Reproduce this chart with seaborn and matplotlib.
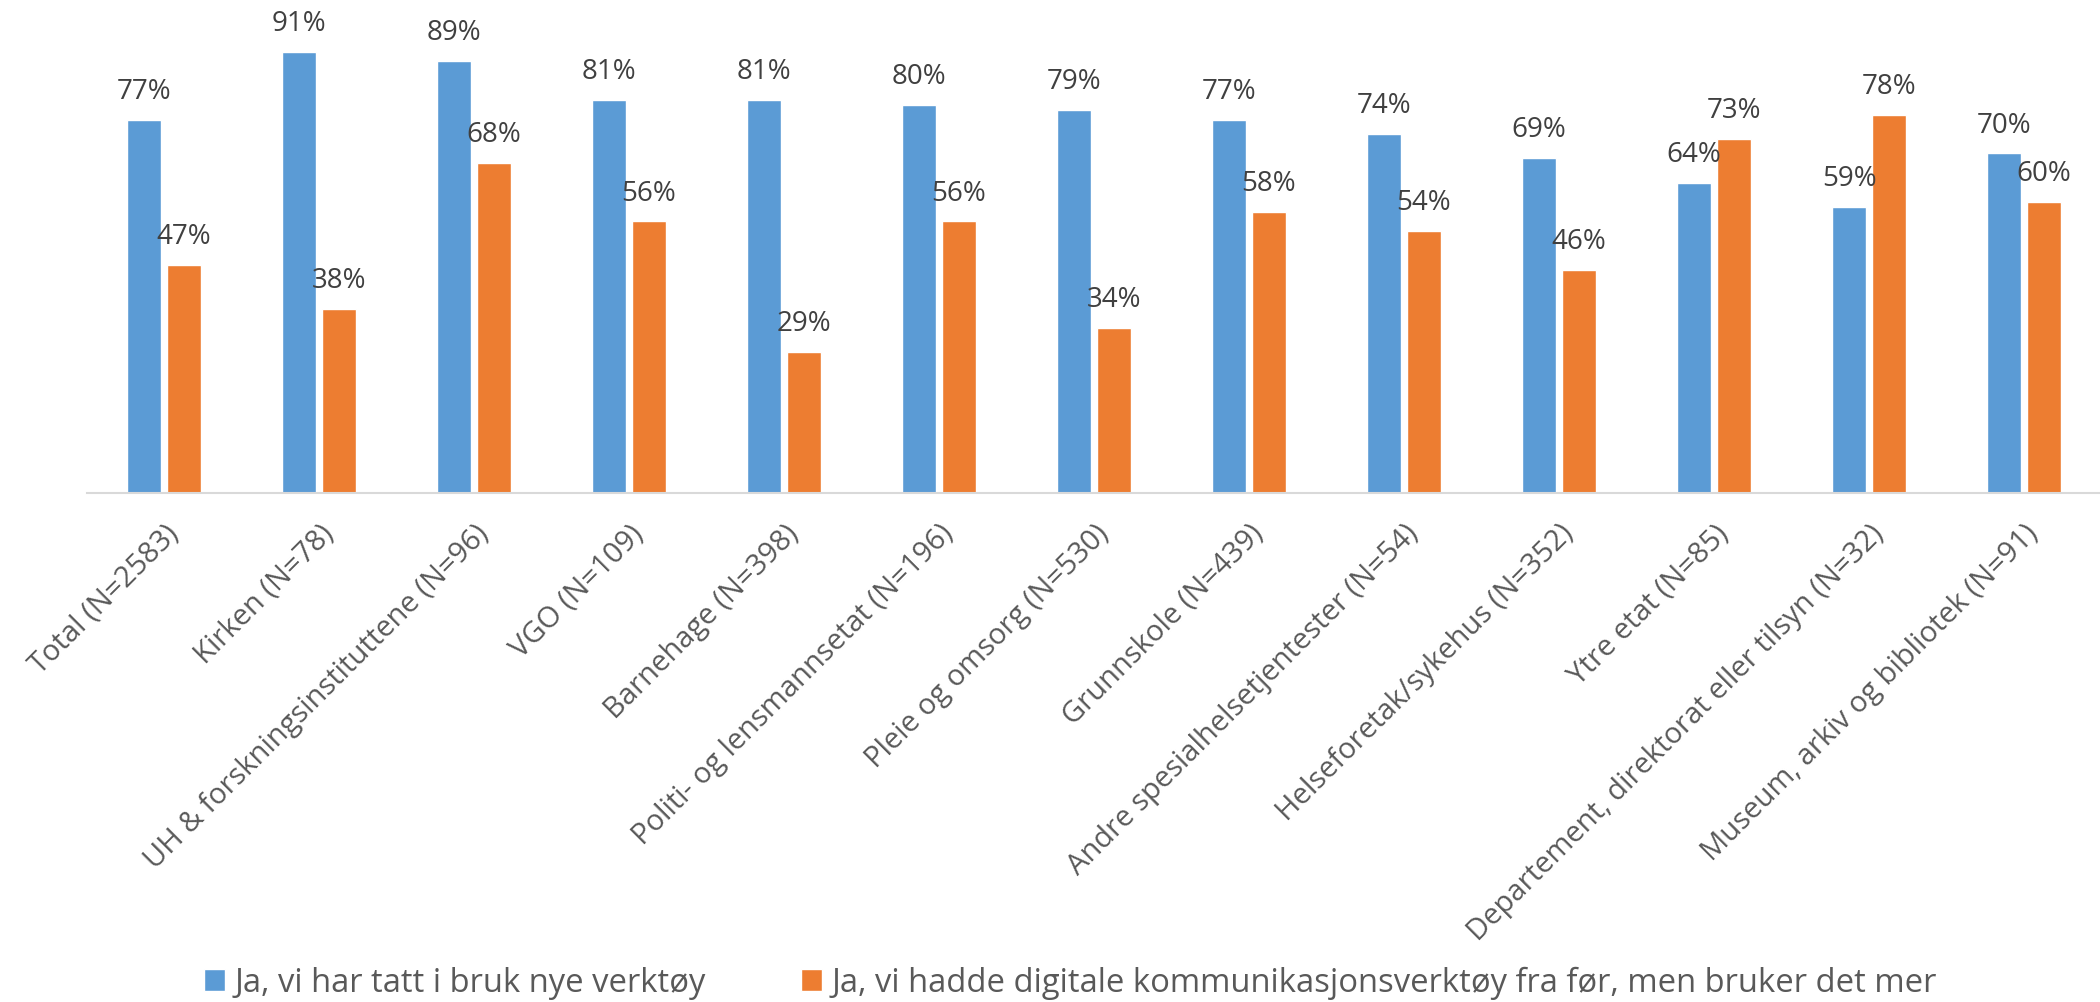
"""Grouped bar chart: bruk av digitale kommunikasjonsverktøy per sektor"""
import matplotlib.pyplot as plt
import seaborn as sns
import pandas as pd

# Data
categories = ['Total (N=2583)', 'Kirken (N=78)', 'UH & forskningsinstituttene (N=96)',
              'VGO (N=109)', 'Barnehage (N=398)', 'Politi- og lensmannsetat (N=196)',
              'Pleie og omsorg (N=530)', 'Grunnskole (N=439)',
              'Andre spesialhelsetjentester (N=54)', 'Helseforetak/sykehus (N=352)',
              'Ytre etat (N=85)', 'Departement, direktorat eller tilsyn (N=32)',
              'Museum, arkiv og bibliotek (N=91)']
nye_verktoy = [77, 91, 89, 81, 81, 80, 79, 77, 74, 69, 64, 59, 70]
bruker_mer = [47, 38, 68, 56, 29, 56, 34, 58, 54, 46, 73, 78, 60]
series = ['Ja, vi har tatt i bruk nye verktøy',
          'Ja, vi hadde digitale kommunikasjonsverktøy fra før, men bruker det mer']
colors = ['#5B9BD5', '#ED7D31']

df = pd.DataFrame({
    'kategori': categories * 2,
    'andel': nye_verktoy + bruker_mer,
    'serie': [series[0]] * len(categories) + [series[1]] * len(categories),
})

sns.set_style('white')
plt.rcParams['font.family'] = ['Open Sans', 'DejaVu Sans']

fig = plt.figure(figsize=(21, 10.02), dpi=100)
ax = fig.add_axes([86.5 / 2100, 1 - 493 / 1002, 2015 / 2100, 485 / 1002])

sns.barplot(data=df, x='kategori', y='andel', hue='serie', palette=colors,
            width=0.51, gap=0.13, ax=ax, saturation=1)

# percentage labels above each bar
for container in ax.containers:
    ax.bar_label(container, labels=[f'{v:.0f}%' for v in container.datavalues],
                 padding=10, fontsize=20, color='#404040')

ax.set_ylim(0, 100)
ax.set_xlim(-0.5, len(categories) - 0.5)
ax.set(xlabel='', ylabel='')
ax.set_yticks([])
ax.set_xticks(range(len(categories)))
ax.set_xticklabels(categories, rotation=45, ha='right', rotation_mode='anchor',
                   fontsize=21, color='#595959')
ax.tick_params(axis='x', length=0, pad=19)
for side in ['top', 'left', 'right']:
    ax.spines[side].set_visible(False)
ax.spines['bottom'].set_color('#D9D9D9')
ax.spines['bottom'].set_linewidth(1.5)

handles, labels = ax.get_legend_handles_labels()
ax.legend_.remove()
fig.legend(handles, labels, loc='center left', bbox_to_anchor=(204 / 2100, 1 - 983 / 1002),
           ncol=2, frameon=False, fontsize=23.6, labelcolor='#595959', borderpad=0,
           borderaxespad=0, handlelength=0.64, handleheight=0.64, handletextpad=0.3,
           columnspacing=2.9)

fig.savefig('out.png', dpi=100)
